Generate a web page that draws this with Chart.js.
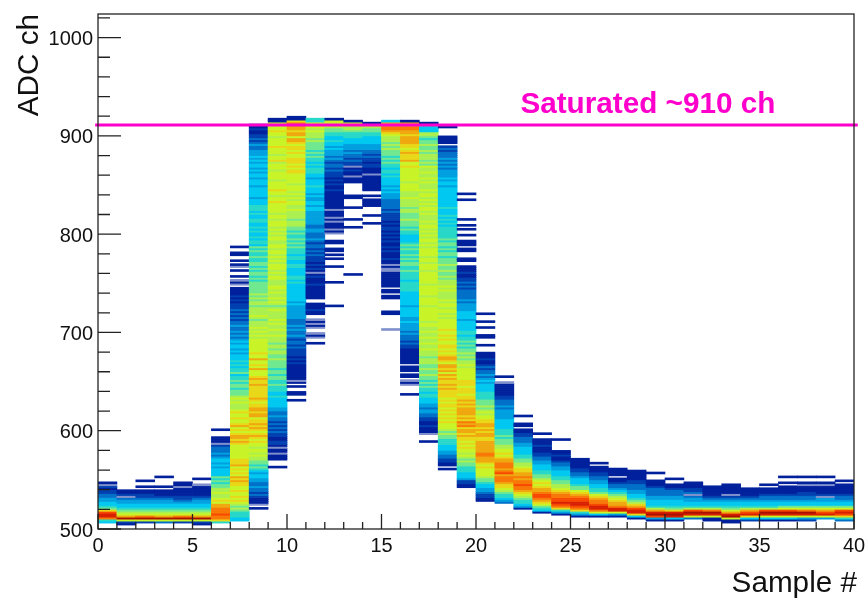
<!DOCTYPE html>
<html>
<head>
<meta charset="utf-8">
<title>ADC samples</title>
<script src="https://cdn.jsdelivr.net/npm/chart.js@4"></script>
<style>
    html, body { margin: 0; padding: 0; background: #fff; }
    canvas { display: block; }
</style>
</head>
<body>
<canvas id="adcChart" width="868" height="601"></canvas>
<script>
// Bottom ADC value of the first cell in each sample column
const columnBase = [
    500, 500, 500, 500, 500, 500, 500, 500, 520, 560,
    620, 680, 720, 740, 800, 700, 620, 580, 560, 540,
    520, 520, 520, 500, 500, 500, 500, 500, 500, 500,
    500, 500, 500, 500, 500, 500, 500, 500, 500, 500
];

// One string per sample: a hex colour level for every 2 ADC channels, going up.
// '.' is an empty cell, groups of ten span 20 channels.
const columnLevels = [
    '...45bddc9 6544332211 01f0......',
    '..018ea876 544332f100',
    '...18eb876 5443321100 .0..0.....',
    '...28ea876 5443321000 .0....0...',
    '...18eb876 5443211000 0f00......',
    '..018ea876 5443321000 00f..0....',
    '...59bbcbb baa8987787 7665656444 4343443232 221f000... 0.........',
    '....445556 7678989889 8899a9a898 98a9998888 8889a9aa98 98a9889889 8777878766 6566565546 5545454443 4344343232 3223221212 1211101010 000.f0f.0. .0.f0.0..0 0..0......',
    '0.f0001212 2322334434 5656677878 8788989a98 9a9a998aa9 aa9989a999 999a99a988 8a8988a889 8888888787 8787776787 7776776767 6666665656 6565665565 5656455454 4545445544 5455544434 4444344434 4343443434 3332232121 100100....',
    '.0...000f0 0f01100112 1212122322 3344444544 5556556656 6566667667 7677677787 7877878777 7876787877 8788777887 8788878787 8878877887 8787888788 7888889887 8898888788 8878887988 7888988887 889888800.',
    '.....0..00 ..0.0f0000 0000101011 1121221232 2323222333 3333434444 4444454554 4445544554 5556565655 6566777677 7787788787 8788878888 8998989998 8989989aa8 aa9aabb900',
    '....0..f0f ..f0f0f..0 01000..000 0000100010 f010101112 1212212322 2332233333 3344344334 3444544434 4555454556 5656666767 778788855.',
    '...0...... .....0.... ...0...0.0 .00..00... f0f000f0f0 00f0000000 0010010101 1121221232 3334344544 556678880.',
    '.........0 .......... .......... ...0...0.. ...0....00 ......000f 0010f11212 2323334445 55677880..',
    '.....0...0 ....0000.0 ..00000000 f000110112 1223334444 5566780...',
    '.f.......0 0......00. 00.0000000 0ff0f00100 0101001010 1011010111 1212222233 3434344445 4554556565 6667676777 89abbaa4..',
    '........0. ...f0f.00. 000.000000 0011212223 2333343344 4443444444 4555554555 5655665656 5565654444 5565666766 6776777787 7788887888 8888988a99 9a9899aaaa 9aabbaa0..',
    '....0...f0 0010011223 3233444554 5565656676 6766777677 7877877877 8778878888 8887888878 8888788888 8788878878 8887878878 7878878777 8788787878 8787778787 7877867677 7676676656 7744450...',
    '0.00112233 4445556676 7888989898 9899898999 9a9a99a9a8 a9aa89aa98 9899889898 8988888787 8878878777 7878777676 6766766656 6565665655 5555454545 4445444444 4444344343 3332323232 22121.0000 ....0.....',
    '.001134445 5566767878 8989899a9a a9bab9a9aa aa9a9a9989 9989998888 8878776767 6656565545 5444443444 4333323222 2212121100 1000..00.. .00.000..0 ..0.0..0.. .......0.. 0.........',
    '....001123 3445667888 8989aaabba aaaaa99aa9 a9aa998878 7676665555 4444343232 2121001000 ...0...00. ..0..0...0',
    '...2345567 899abbbacb abbbaa9898 8776665655 5444443333 3232221100 0000f..0..',
    '034556789a bbcbbabaa9 9877665544 4433222110 0.00...0..',
    '........04 5689abccba a989876655 4443322110 001000..0.',
    '.......035 9bcdccbba9 8776655444 3322100100 .....0....',
    '......0359 bcddccba98 6654443221 100000....',
    '......048b ddcbba9865 5443322110 00.0......',
    '......038d dbaa987654 322100.000 0.........',
    '.....049dd ca97654433 2221100000',
    '....03ceda 7544433222 21000...0.',
    '....04ded9 6544433222 100..0....',
    '.....28dec 7544332f21 1000......',
    '....008deb 7544321000 00........',
    '...008eda8 6544321f00 000.......',
    '....149dca 7544321000 0.........',
    '....048dec 7544322100 0.0.......',
    '....048dec 8644322100 00.0..0...',
    '....138deb 8644322110 00f0..0...',
    '.....38dca 864433f100 00f0..0...',
    '....259cdc 8644322100 000.0.....'
];

// Saturation level, the line runs a little past both sides of the frame
const saturationLine = [-0.15, 40.2];
const saturationLevel = 911;
const saturationLabel = 'Saturated ~910 ch';

// Colour ramp for the levels 0-e, f is the washed out navy of the sparse rows
const levelColors = [
    '#00209c', '#0040b0', '#0070c8', '#00a0e0', '#00c8f0',
    '#28d8c8', '#70e890', '#acf050', '#c8f428', '#e8d818',
    '#f0a810', '#f87808', '#f84800', '#d82000', '#a81000',
    '#8090cc'
];

const binHeight = 2;
const binWidth = 1;

const axisFont = "'Liberation Sans', Arial, sans-serif";
const frameColor = '#222222';
const magenta = '#ff00cc';

// Turn the level strings into floating bars
const cellPoints = [];
const cellColors = [];
columnLevels.forEach((levels, sample) => {
    levels.replace(/ /g, '').split('').forEach((level, row) => {
        if (level === '.') return;
        const low = columnBase[sample] + row * binHeight;
        cellPoints.push({ x: sample + binWidth / 2, y: [low, low + binHeight] });
        cellColors.push(levelColors[parseInt(level, 16)]);
    });
});

// Frame, inward ticks, the saturation label and the x title (it overhangs the frame)
const framePlugin = {
    id: 'frame',
    afterDatasetsDraw(chart) {
        const { ctx, chartArea, scales } = chart;
        ctx.save();
        ctx.strokeStyle = frameColor;
        ctx.lineWidth = 1.3;
        ctx.strokeRect(chartArea.left, chartArea.top, chartArea.width, chartArea.height);

        ctx.beginPath();
        for (let v = 0; v <= 40; v++) {
            const px = scales.x.getPixelForValue(v);
            ctx.moveTo(px, chartArea.bottom);
            ctx.lineTo(px, chartArea.bottom - (v % 5 === 0 ? 15 : 7));
        }
        for (let v = 500; v <= 1020; v += 20) {
            const py = scales.y.getPixelForValue(v);
            ctx.moveTo(chartArea.left, py);
            ctx.lineTo(chartArea.left + (v % 100 === 0 ? 23 : 12), py);
        }
        ctx.stroke();

        ctx.fillStyle = magenta;
        ctx.font = 'bold 29.7px ' + axisFont;
        ctx.textAlign = 'left';
        ctx.fillText(saturationLabel, scales.x.getPixelForValue(22.35), scales.y.getPixelForValue(923.5));

        ctx.fillStyle = '#111';
        ctx.font = '29.7px ' + axisFont;
        ctx.textAlign = 'right';
        ctx.fillText('Sample #', chartArea.right + 3, chartArea.bottom + 63);
        ctx.restore();
    }
};

new Chart(document.getElementById('adcChart'), {
    data: {
        datasets: [
            {
                type: 'line',
                data: saturationLine.map(x => ({ x: x, y: saturationLevel })),
                borderColor: magenta,
                borderWidth: 3,
                pointRadius: 0,
                clip: false,
                order: 0
            },
            {
                type: 'bar',
                data: cellPoints,
                backgroundColor: cellColors,
                borderWidth: 0,
                barPercentage: 1,
                categoryPercentage: 1,
                order: 1
            }
        ]
    },
    options: {
        responsive: false,
        animation: false,
        layout: { padding: { top: 14, right: 14 } },
        plugins: {
            legend: { display: false },
            tooltip: { enabled: false }
        },
        scales: {
            x: {
                type: 'linear',
                min: 0,
                max: 40,
                offset: false,
                grid: { display: false, drawTicks: false },
                border: { display: false },
                // Fixed margins, the frame must not move with the label overhang
                afterFit: scale => {
                    scale.height = 72;
                    scale.paddingLeft = 0;
                    scale.paddingRight = 0;
                },
                ticks: {
                    stepSize: 5,
                    padding: 5,
                    maxRotation: 0,
                    color: '#111',
                    font: { family: axisFont, size: 20 },
                    callback: value => String(value)
                }
            },
            y: {
                min: 500,
                max: 1024,
                grid: { display: false, drawTicks: false },
                border: { display: false },
                afterFit: scale => {
                    scale.width = 98;
                    scale.paddingTop = 0;
                    scale.paddingBottom = 0;
                },
                ticks: {
                    stepSize: 100,
                    includeBounds: false,
                    padding: 5,
                    color: '#111',
                    // Empty first line plus a tight line height nudges the digits 2px down
                    font: { family: axisFont, size: 20, lineHeight: 0.2 },
                    callback: value => ['', String(value)]
                },
                title: {
                    display: true,
                    text: 'ADC ch',
                    align: 'end',
                    color: '#111',
                    padding: { top: 12, bottom: 0 },
                    font: { family: axisFont, size: 29.7 }
                }
            }
        }
    },
    plugins: [framePlugin]
});
</script>
</body>
</html>
